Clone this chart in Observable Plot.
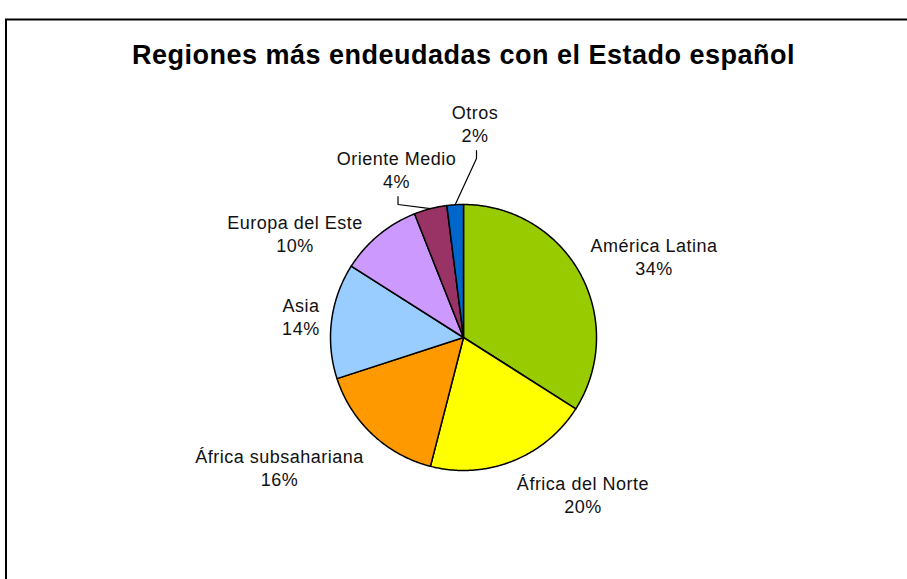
<!DOCTYPE html>
<html>
<head>
<meta charset="utf-8">
<script src="https://cdn.jsdelivr.net/npm/d3@7"></script>
<script src="https://cdn.jsdelivr.net/npm/@observablehq/plot@0.6"></script>
<style>
  html, body { margin: 0; padding: 0; background: #fff; }
</style>
</head>
<body>
<div id="chart"></div>
<script>
// ---- data ----
const regions = ["América Latina", "África del Norte", "África subsahariana", "Asia", "Europa del Este", "Oriente Medio", "Otros"];
const shares = [34, 20, 16, 14, 10, 4, 2];
const sliceColors = ["#99CC00", "#FFFF00", "#FF9900", "#99CCFF", "#CC99FF", "#993366", "#0066CC"];
const chartTitle = "Regiones más endeudadas con el Estado español";

// ---- layout ----
const W = 907, H = 579;
const CX = 463, CY = 337, R = 133;       // pie centre / radius (px)
const LABEL_R = R + 12;                  // outside-end label anchor radius
const FONT = "'Liberation Sans', Arial, sans-serif";
const FS = 18, LH = 23, TITLE_FS = 27;
// labels that the original moved away from the pie (box centre x, first baseline y), with leader lines
const movedLabels = {
  "África subsahariana": {cx: 279, b1: 461, leader: false},
  "Europa del Este": {cx: 294.5, b1: 227, leader: false},
  "Oriente Medio":   {cx: 396,   b1: 163, leader: true},
  "Otros":           {cx: 474.5, b1: 117, leader: true}
};

const total = d3.sum(shares);
let acc = 0;
const slices = regions.map((name, i) => {
  const a0 = acc / total * 2 * Math.PI;
  acc += shares[i];
  const a1 = acc / total * 2 * Math.PI;
  return {name, value: shares[i], a0, a1, mid: (a0 + a1) / 2};
});
const polar = (a, r) => [CX + r * Math.sin(a), CY - r * Math.cos(a)];

// slice outlines (centre -> arc -> centre), derived from the shares
const slicePts = [];
for (const s of slices) {
  slicePts.push({name: s.name, x: CX, y: CY});
  const n = Math.max(2, Math.ceil((s.a1 - s.a0) / (Math.PI / 360)));
  for (let k = 0; k <= n; k++) {
    const [x, y] = polar(s.a0 + (s.a1 - s.a0) * k / n, R);
    slicePts.push({name: s.name, x, y});
  }
  slicePts.push({name: s.name, x: CX, y: CY});
}

// text measuring for label boxes
const ctx = document.createElement("canvas").getContext("2d");
ctx.font = `${FS}px ${FONT}`;
const tw = t => ctx.measureText(t).width + 0.5 * t.length;

const labels = [];
const leaders = [];
for (const s of slices) {
  const lines = [s.name, `${s.value}%`];
  const w = Math.max(...lines.map(tw));
  let cx, y;
  const m = movedLabels[s.name];
  if (m) {
    cx = m.cx;
    y = m.b1 + 5.74;
    if (m.leader) {
      const b2 = m.b1 + LH;
      const [ex, ey] = polar(s.mid, R);
      leaders.push({name: s.name, x: cx + 1.5, y: b2 + 10});
      leaders.push({name: s.name, x: cx + 1.5, y: b2 + 18});
      leaders.push({name: s.name, x: ex, y: ey});
    }
  } else {
    const [px, py] = polar(s.mid, LABEL_R);
    cx = px + Math.sign(Math.sin(s.mid)) * w / 2;
    y = py + (LH) * (-Math.cos(s.mid));
  }
  labels.push({text: lines.join("\n"), x: cx, y});
}

const plot = Plot.plot({
  width: W,
  height: H,
  margin: 0,
  style: {background: "white", overflow: "hidden", fontFamily: FONT},
  x: {domain: [0, W], range: [0, W], axis: null},
  y: {domain: [0, H], range: [0, H], axis: null},
  color: {domain: regions, range: sliceColors},
  marks: [
    Plot.rect([{x1: 6, y1: 19.5, x2: W + 10, y2: H + 10}], {x1: "x1", y1: "y1", x2: "x2", y2: "y2", fill: "none", stroke: "black", strokeWidth: 2}),
    Plot.text([chartTitle], {x: () => 463, y: () => 63 - 0.32 * TITLE_FS, text: d => d, fontSize: TITLE_FS, fontWeight: "bold", fontFamily: FONT, fill: "black", textAnchor: "middle", lineAnchor: "middle"}),
    Plot.line(slicePts, {x: "x", y: "y", z: "name", fill: "name", stroke: "black", strokeWidth: 1.5, strokeLinejoin: "round", curve: "linear"}),
    Plot.line(leaders, {x: "x", y: "y", z: "name", stroke: "black", strokeWidth: 1.2}),
    Plot.text(labels, {x: "x", y: "y", text: "text", fontSize: FS, lineHeight: LH / FS, fontFamily: FONT, fill: "#111", textAnchor: "middle", lineAnchor: "middle"})
  ]
});

plot.querySelectorAll("text").forEach(t => {
  t.style.letterSpacing = t.textContent === chartTitle ? "0.5px" : "0.5px";
});
document.getElementById("chart").appendChild(plot);
</script>
</body>
</html>
